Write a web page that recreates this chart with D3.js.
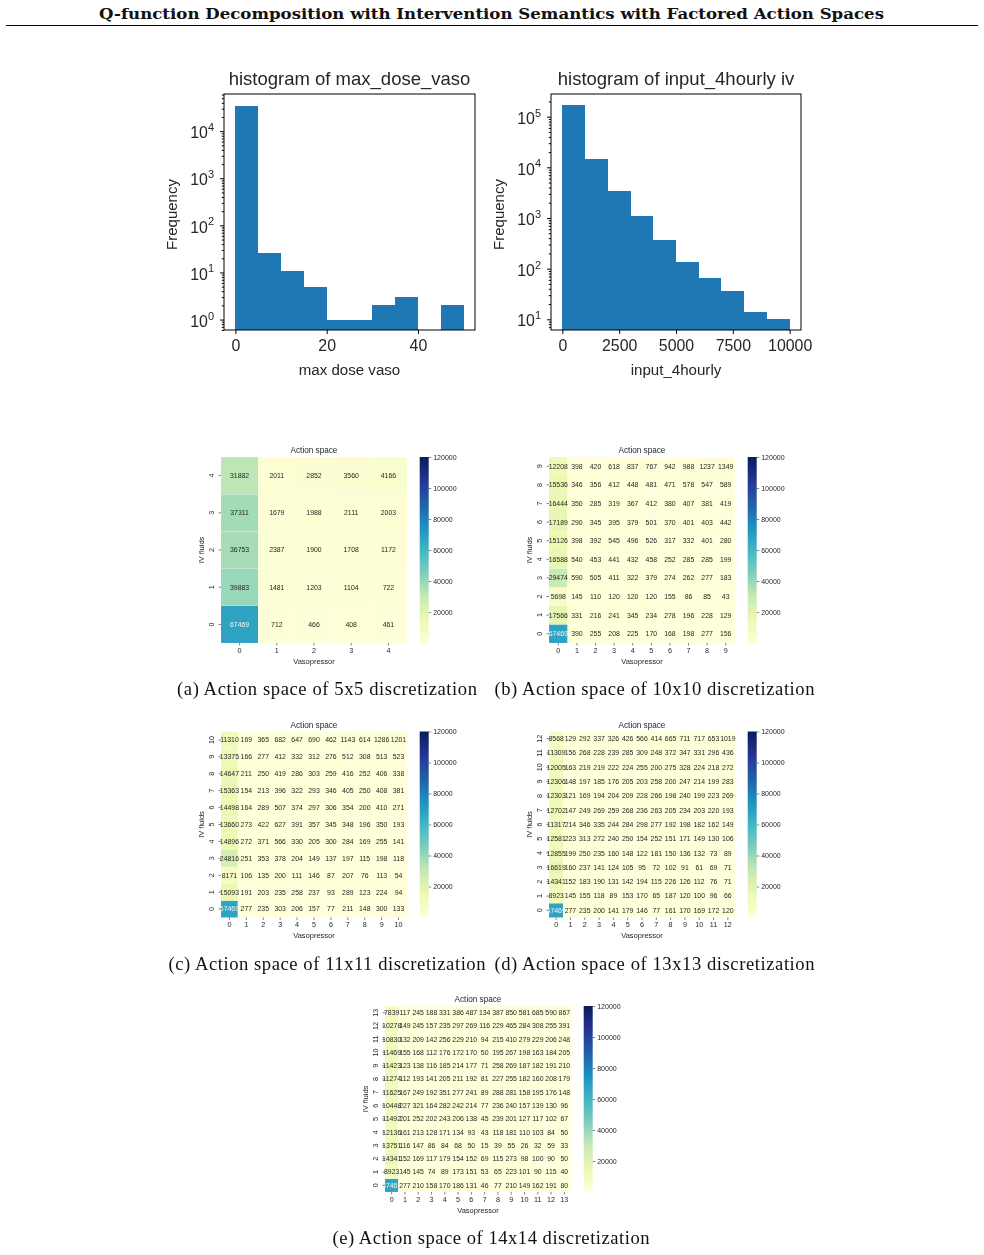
<!DOCTYPE html>
<html><head><meta charset="utf-8">
<script src="https://cdn.jsdelivr.net/npm/d3@7"></script>
<style>
html,body{margin:0;padding:0;background:#fff}
svg{display:block}
.soft{filter:blur(0.5px)}
.domain{stroke:#000}
text{fill:#262626}
</style></head><body>
<svg id="c" width="984" height="1255"></svg>
<script>
const pageTitle = "Q-function Decomposition with Intervention Semantics with Factored Action Spaces";

const vasoBins = [0,5,10,15,20,25,30,35,40,45,50];
const vasoCounts = [34500,26,11,5,1,1,2,3,0,2];
const ivBins = [0,1000,2000,3000,4000,5000,6000,7000,8000,9000,10000];
const ivCounts = [170000,14800,3450,1100,368,133,65,36,14,10];

const matrix5 = [
 [67469,712,466,408,461],
 [39883,1481,1203,1104,722],
 [36753,2387,1900,1708,1172],
 [37311,1679,1988,2111,2003],
 [31882,2011,2852,3560,4166]];
const matrix10 = [
 [67469,390,255,208,225,170,168,198,277,156],
 [17566,331,216,241,345,234,278,196,228,129],
 [5698,145,110,120,120,120,155,86,85,43],
 [29474,590,505,411,322,379,274,262,277,183],
 [16588,540,453,441,432,458,252,285,285,199],
 [15126,398,392,545,496,526,317,332,401,280],
 [17189,290,345,395,379,501,370,401,403,442],
 [16444,350,285,319,367,412,380,407,381,419],
 [15536,346,356,412,448,481,471,578,547,589],
 [12208,398,420,618,837,767,942,988,1237,1349]];
const matrix11 = [
 [67469,277,235,303,206,157,77,211,148,300,133],
 [15093,191,203,235,258,237,93,289,123,224,94],
 [8171,106,135,200,111,146,87,207,76,113,54],
 [24816,251,353,378,204,149,137,197,115,198,118],
 [14896,272,371,566,330,205,300,284,169,255,141],
 [13660,273,422,627,391,357,345,348,196,350,193],
 [14498,164,289,507,374,297,306,354,200,410,271],
 [15363,154,213,396,322,293,346,405,250,408,381],
 [14647,211,250,419,286,303,259,416,252,406,338],
 [13375,166,277,412,332,312,276,512,308,513,523],
 [11310,169,365,682,647,690,462,1143,614,1286,1201]];
const matrix13 = [
 [67469,277,235,200,141,179,146,77,161,170,169,172,120],
 [8923,145,155,118,89,153,170,65,187,120,100,96,66],
 [14341,152,183,190,131,142,194,115,226,126,112,76,71],
 [16619,160,237,141,124,105,95,72,102,91,61,69,71],
 [12855,199,250,235,160,148,122,181,150,136,132,73,89],
 [12581,223,313,272,240,250,154,252,151,171,149,130,106],
 [11317,214,346,335,244,284,298,277,192,198,182,162,149],
 [12702,147,249,269,259,268,236,263,205,234,203,220,193],
 [12303,121,169,194,204,209,228,266,198,240,199,223,269],
 [12306,148,197,185,176,205,203,258,200,247,214,199,283],
 [12005,163,219,219,222,224,255,200,275,328,224,218,272],
 [11309,156,268,228,239,285,309,248,372,347,331,296,436],
 [8568,129,292,337,326,426,566,414,665,711,717,653,1019]];
const matrix14 = [
 [67469,277,210,158,170,186,131,46,77,210,149,162,191,80],
 [8923,145,145,74,89,173,151,53,65,223,101,90,115,40],
 [14341,152,169,117,179,154,152,69,115,273,98,100,90,50],
 [13751,116,147,86,84,68,50,15,39,55,26,32,59,33],
 [12136,161,213,128,171,134,93,43,118,181,110,103,84,50],
 [11492,201,252,202,243,206,138,45,239,201,127,117,102,67],
 [10448,227,321,164,282,242,214,77,236,240,157,139,130,96],
 [11625,167,249,192,351,277,241,89,288,281,158,195,176,148],
 [11274,112,193,141,205,211,192,81,227,255,182,160,208,179],
 [11423,123,138,116,185,214,177,71,258,269,187,182,191,210],
 [11469,155,168,112,176,172,170,50,195,267,198,163,184,205],
 [10830,132,209,142,256,229,210,94,215,410,279,229,206,248],
 [10278,149,245,157,235,297,269,116,229,465,284,308,255,391],
 [7839,117,245,188,331,386,487,134,387,850,581,685,590,867]];
const cbarTicks = [20000,40000,60000,80000,100000,120000];
const captions = ["(a) Action space of 5x5 discretization","(b) Action space of 10x10 discretization",
 "(c) Action space of 11x11 discretization","(d) Action space of 13x13 discretization","(e) Action space of 14x14 discretization"];

const svg = d3.select("#c");
const SANS = "'Liberation Sans',Arial,sans-serif";
const SERIF = "'Liberation Serif',serif";

svg.append("text").attr("x",491.5).attr("y",18.5).attr("text-anchor","middle")
  .attr("font-family","'DejaVu Serif',serif").attr("font-weight","bold").attr("font-size",15.4)
  .attr("textLength",785).attr("lengthAdjust","spacingAndGlyphs").style("fill","#111").text(pageTitle);
svg.append("line").attr("x1",6).attr("x2",978).attr("y1",25.5).attr("y2",25.5).attr("stroke","#000").attr("stroke-width",1);

const soft = svg.append("g").attr("class","soft");

function hist(o){
  const g = soft.append("g");
  const x = d3.scaleLinear().domain(o.xd).range([o.l,o.r]);
  const y = d3.scaleLog().domain(o.yd).range([o.b,o.t]);
  g.append("g").attr("shape-rendering","crispEdges").selectAll("rect").data(o.counts.map((c,i)=>({c,i})).filter(d=>d.c>0)).join("rect")
    .attr("x",d=>x(o.bins[d.i])).attr("width",d=>x(o.bins[d.i+1])-x(o.bins[d.i]))
    .attr("y",d=>y(d.c)).attr("height",d=>o.b-y(d.c)).attr("fill","#1f77b4");
  const ax = g.append("g").attr("transform",`translate(0,${o.b})`)
    .call(d3.axisBottom(x).tickValues(o.xticks).tickFormat(d3.format("d")).tickSizeOuter(0).tickSize(4).tickPadding(5.5));
  ax.selectAll("text").attr("font-family",SANS).attr("font-size",15.9);
  ax.select(".domain").remove();
  const lo=Math.ceil(Math.log10(o.yd[0])), hi=Math.floor(Math.log10(o.yd[1]));
  const majors=d3.range(lo,hi+1).map(e=>Math.pow(10,e));
  const minors=[];
  for(let e=lo-1;e<=hi;e++) for(let m=2;m<=9;m++){const v=m*Math.pow(10,e); if(v>o.yd[0]&&v<o.yd[1]) minors.push(v);}
  const mi=g.append("g").attr("transform",`translate(${o.l},0)`)
    .call(d3.axisLeft(y).tickValues(minors).tickFormat("").tickSize(2.2).tickSizeOuter(0));
  mi.select(".domain").remove();
  const ma=g.append("g").attr("transform",`translate(${o.l},0)`)
    .call(d3.axisLeft(y).tickValues(majors).tickSize(4).tickPadding(6).tickFormat(""));
  ma.select(".domain").remove();
  ma.selectAll(".tick").each(function(d){
    const t=d3.select(this).select("text").attr("font-family",SANS).attr("font-size",15.9).attr("dy","0.42em");
    t.append("tspan").text("10");
    t.append("tspan").attr("font-size",11).attr("dy","-0.65em").text(Math.round(Math.log10(d)));
  });
  g.append("rect").attr("x",o.l).attr("y",o.t).attr("width",o.r-o.l).attr("height",o.b-o.t)
    .attr("fill","none").attr("stroke","#000").attr("stroke-width",1);
  g.append("text").attr("x",(o.l+o.r)/2).attr("y",o.t-9).attr("text-anchor","middle")
    .attr("font-family",SANS).attr("font-size",18.5).text(o.title);
  g.append("text").attr("x",(o.l+o.r)/2).attr("y",o.b+45).attr("text-anchor","middle")
    .attr("font-family",SANS).attr("font-size",15.1).text(o.xlabel);
  g.append("text").attr("transform",`translate(${o.yl},${(o.t+o.b)/2+2.5}) rotate(-90)`).attr("text-anchor","middle")
    .attr("font-family",SANS).attr("font-size",15).text("Frequency");
}
hist({bins:vasoBins,counts:vasoCounts,xd:[-2.5,52.5],yd:[0.6,61500],l:224,r:475,t:94,b:330,xticks:[0,20,40],
  title:"histogram of max_dose_vaso",xlabel:"max dose vaso",yl:177});
hist({bins:ivBins,counts:ivCounts,xd:[-500,10500],yd:[6.15,280500],l:551,r:801,t:94,b:330,xticks:[0,2500,5000,7500,10000],
  title:"histogram of input_4hourly iv",xlabel:"input_4hourly",yl:504});

const stops=d3.schemeYlGnBu[9];
const color=d3.scaleLinear().domain(d3.range(9).map(i=>15+(120000-15)*i/8)).range(stops).clamp(true);

function heat(o){
  const g=soft.append("g");
  const n=o.m.length, idx=d3.range(n);
  const x=d3.scaleBand().domain(idx).range([o.l,o.l+186]);
  const y=d3.scaleBand().domain(idx).range([o.t+186,o.t]);
  const cells=idx.flatMap(r=>idx.map(c=>({r,c,v:o.m[r][c]})));
  g.append("g").selectAll("rect").data(cells).join("rect")
    .attr("x",d=>x(d.c)).attr("y",d=>y(d.r)).attr("width",x.bandwidth()).attr("height",y.bandwidth())
    .attr("fill",d=>color(d.v)).attr("stroke","#fff").attr("stroke-width",0.08);
  g.append("g").selectAll("text").data(cells).join("text")
    .attr("x",d=>x(d.c)+x.bandwidth()/2).attr("y",d=>y(d.r)+y.bandwidth()/2).attr("dy","0.35em")
    .attr("text-anchor","middle").attr("font-family",SANS).attr("font-size",6.9)
    .style("fill",d=>d.v>50000?"#f0f8fb":"#262626").text(d=>d.v);
  const ax=g.append("g").attr("transform",`translate(0,${o.t+186})`).call(d3.axisBottom(x).tickSize(2.5).tickPadding(2));
  ax.select(".domain").remove();
  ax.selectAll("text").attr("font-family",SANS).attr("font-size",7.2);
  const ay=g.append("g").attr("transform",`translate(${o.l},0)`).call(d3.axisLeft(y).tickSize(2.5).tickPadding(2));
  ay.select(".domain").remove();
  ay.selectAll(".tick text").attr("font-family",SANS).attr("font-size",7.2).attr("x",0).attr("dy",0)
    .attr("text-anchor","middle").attr("transform","translate(-8.5,0) rotate(-90)").attr("dominant-baseline","middle");
  ax.selectAll("line").attr("stroke","#333").attr("stroke-width",0.6);
  ay.selectAll("line").attr("stroke","#333").attr("stroke-width",0.6);
  g.append("text").attr("x",o.l+93).attr("y",o.t-4).attr("text-anchor","middle").attr("font-family",SANS).attr("font-size",8.2).text("Action space");
  g.append("text").attr("x",o.l+93).attr("y",o.t+206.5).attr("text-anchor","middle").attr("font-family",SANS).attr("font-size",7.5).text("Vasopressor");
  g.append("text").attr("transform",`translate(${o.l-17},${o.t+93}) rotate(-90)`).attr("text-anchor","middle").attr("font-family",SANS).attr("font-size",7.5).text("IV fluids");
  // colorbar
  const cx=o.l+198.7, cw=9;
  const cs=d3.scaleLinear().domain([15,120000]).range([o.t+186,o.t]);
  const id="cb"+o.l+"_"+String(o.t).replace(".","_");
  const lg=svg.append("defs").append("linearGradient").attr("id",id).attr("x1",0).attr("x2",0).attr("y1",1).attr("y2",0);
  stops.forEach((s,i)=>lg.append("stop").attr("offset",i/8).attr("stop-color",s));
  g.append("rect").attr("x",cx).attr("y",o.t).attr("width",cw).attr("height",186).attr("fill",`url(#${id})`);
  const ac=g.append("g").attr("transform",`translate(${cx+cw},0)`).call(d3.axisRight(cs).tickValues(cbarTicks).tickFormat(d3.format("d")).tickSize(2.5).tickPadding(2));
  ac.select(".domain").remove();
  ac.selectAll("line").attr("stroke","#333").attr("stroke-width",0.6);
  ac.selectAll("text").attr("font-family",SANS).attr("font-size",7);
}
heat({m:matrix5,l:221,t:457});
heat({m:matrix10,l:549,t:457});
heat({m:matrix11,l:221,t:731.5});
heat({m:matrix13,l:549,t:731.5});
heat({m:matrix14,l:385,t:1006});

const capPos=[[327,695,300],[654.5,695,320],[327,970,317],[654.5,970,320],[491,1244,317]];
svg.append("g").selectAll("text").data(captions).join("text")
  .attr("x",(d,i)=>capPos[i][0]).attr("y",(d,i)=>capPos[i][1]).attr("text-anchor","middle")
  .attr("font-family",SERIF).attr("font-size",18.6)
  .attr("textLength",(d,i)=>capPos[i][2]).attr("lengthAdjust","spacing").style("fill","#111").text(d=>d);
</script></body></html>
